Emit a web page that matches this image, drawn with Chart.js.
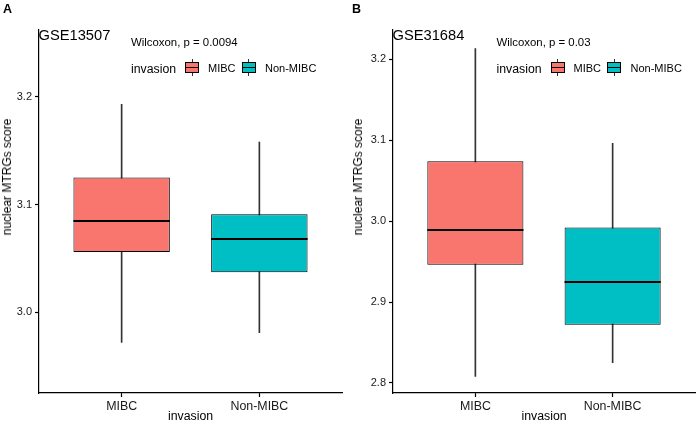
<!DOCTYPE html>
<html>
<head>
<meta charset="utf-8">
<script src="https://cdn.jsdelivr.net/npm/chart.js@4.4.0/dist/chart.umd.min.js"></script>
<style>
  body { margin: 0; background: #fff; }
  #wrap { position: relative; width: 697px; height: 424px; overflow: hidden; font-family: "Liberation Sans", Arial, sans-serif; }
  .cv { position: absolute; top: 0; }
  .txt { position: absolute; line-height: 1; white-space: nowrap; color: #000; }
  .ytitle { position: absolute; line-height: 1; white-space: nowrap; color: #000; font-size: 12px; transform: translate(-50%, -50%) rotate(-90deg); }
  .key { position: absolute; width: 14px; height: 11px; }
  .key .box { position: absolute; left: 0; top: 0; width: 12px; height: 9px; border: 1px solid #000; }
  .key .mid { position: absolute; left: 1px; top: 5px; width: 12px; height: 1px; background: #000; }
  .key .stub { position: absolute; left: 6.5px; width: 1px; height: 3px; background: #333; }
</style>
</head>
<body>
<div id="wrap">
  <canvas id="chartA" class="cv" width="349" height="424" style="left:0px"></canvas>
  <canvas id="chartB" class="cv" width="348" height="424" style="left:349px"></canvas>
</div>
<script>
const groups = ['MIBC', 'Non-MIBC']
const groupColors = ['#F8766D', '#00BFC4']

// panel A - GSE13507
const lowA = [2.972, 2.981]
const q1A = [3.056, 3.037]
const medA = [3.085, 3.068]
const q3A = [3.125, 3.091]
const highA = [3.193, 3.158]
const ticksA = [3.0, 3.1, 3.2]
const rangeA = [2.925, 3.262]

// panel B - GSE31684
const lowB = [2.808, 2.825]
const q1B = [2.946, 2.872]
const medB = [2.989, 2.925]
const q3B = [3.074, 2.992]
const highB = [3.213, 3.096]
const ticksB = [2.8, 2.9, 3.0, 3.1, 3.2]
const rangeB = [2.7876, 3.236]

const fam = '"Liberation Sans", Arial, sans-serif'

const medianLines = {
  id: 'medianLines',
  afterDatasetsDraw(chart, args, opts) {
    const meta = chart.getDatasetMeta(0)
    const y = chart.scales.y
    const ctx = chart.ctx
    ctx.save()
    ctx.strokeStyle = '#000'
    ctx.lineWidth = 2.2
    meta.data.forEach((bar, i) => {
      const py = Math.round(y.getPixelForValue(opts.medians[i]))
      ctx.beginPath()
      ctx.moveTo(bar.x - bar.width / 2, py)
      ctx.lineTo(bar.x + bar.width / 2, py)
      ctx.stroke()
    })
    ctx.restore()
  }
}

function makeChart(id, low, q1, med, q3, high, yTicks, range, axisWidth, rightPad) {
  return new Chart(document.getElementById(id), {
    type: 'bar',
    data: {
      datasets: [
        {
          data: groups.map((g, i) => ({ x: i + 1, y: [q1[i], q3[i]] })),
          backgroundColor: groupColors,
          borderColor: '#000',
          borderWidth: 1,
          borderSkipped: false,
          grouped: false,
          barPercentage: 0.7,
          categoryPercentage: 1
        },
        {
          data: groups.map((g, i) => ({ x: i + 1, y: [low[i], high[i]] })),
          backgroundColor: '#333',
          borderWidth: 0,
          grouped: false,
          barThickness: 1
        }
      ]
    },
    options: {
      responsive: false,
      animation: false,
      layout: { padding: { top: 30, right: rightPad, left: 0, bottom: 0 } },
      plugins: {
        legend: { display: false },
        tooltip: { enabled: false },
        medianLines: { medians: med }
      },
      scales: {
        x: {
          type: 'linear',
          min: 0.4,
          max: 2.6,
          offset: false,
          afterBuildTicks: s => { s.ticks = groups.map((g, i) => ({ value: i + 1 })) },
          afterFit: s => { s.height = 31 },
          ticks: {
            callback: v => groups[v - 1],
            font: { size: 12.4, family: fam },
            color: '#1a1a1a',
            padding: 2,
            autoSkip: false,
            maxRotation: 0
          },
          grid: { drawOnChartArea: false, offset: false, tickLength: 4, color: '#000', tickWidth: 1.2 },
          border: { color: '#000', width: 1.2 },
          title: { display: true, text: 'invasion', font: { size: 12.3, family: fam }, color: '#000', padding: 0 }
        },
        y: {
          min: range[0],
          max: range[1],
          afterBuildTicks: s => { s.ticks = yTicks.map(v => ({ value: v })) },
          afterFit: s => { s.width = axisWidth },
          ticks: {
            callback: v => v.toFixed(1),
            font: { size: 11, family: fam },
            color: '#1a1a1a',
            padding: 3
          },
          grid: { drawOnChartArea: false, tickLength: 4, color: '#000', tickWidth: 1.2 },
          border: { color: '#000', width: 1.2 }
        }
      }
    },
    plugins: [medianLines]
  })
}

makeChart('chartA', lowA, q1A, medA, q3A, highA, ticksA, rangeA, 39, 7)
makeChart('chartB', lowB, q1B, medB, q3B, highB, ticksB, rangeB, 44, 2)

const wrap = document.getElementById('wrap')
function addText(x, top, text, size, weight) {
  const d = document.createElement('div')
  d.className = 'txt'
  d.style.left = x + 'px'
  d.style.top = top + 'px'
  d.style.fontSize = size + 'px'
  if (weight) d.style.fontWeight = weight
  d.textContent = text
  wrap.appendChild(d)
}
function addKey(x, y, color) {
  const k = document.createElement('div')
  k.className = 'key'
  k.style.left = x + 'px'
  k.style.top = y + 'px'
  k.innerHTML = '<div class="stub" style="top:-3px"></div><div class="box" style="background:' + color + '"></div><div class="mid"></div><div class="stub" style="top:11px"></div>'
  wrap.appendChild(k)
}

const panels = [
  { letter: 'A', lx: 3, title: 'GSE13507', tx: 38.5, stat: 'Wilcoxon, p = 0.0094', sx: 131, ytx: 7 },
  { letter: 'B', lx: 352, title: 'GSE31684', tx: 392.5, stat: 'Wilcoxon, p = 0.03', sx: 496.5, ytx: 357.5 }
]
panels.forEach(p => {
  addText(p.lx, 2.8, p.letter, 12.5, 'bold')
  addText(p.tx, 27.6, p.title, 14.7)
  addText(p.sx, 37.3, p.stat, 11.4)
  addText(p.sx, 62.6, 'invasion', 12.3)
  addKey(p.sx + 54, 62, groupColors[0])
  addText(p.sx + 77, 63.2, groups[0], 11)
  addKey(p.sx + 110.5, 62, groupColors[1])
  addText(p.sx + 134, 63.2, groups[1], 11)
  const yt = document.createElement('div')
  yt.className = 'ytitle'
  yt.style.left = p.ytx + 'px'
  yt.style.top = '177px'
  yt.textContent = 'nuclear MTRGs score'
  wrap.appendChild(yt)
})
</script>
</body>
</html>
